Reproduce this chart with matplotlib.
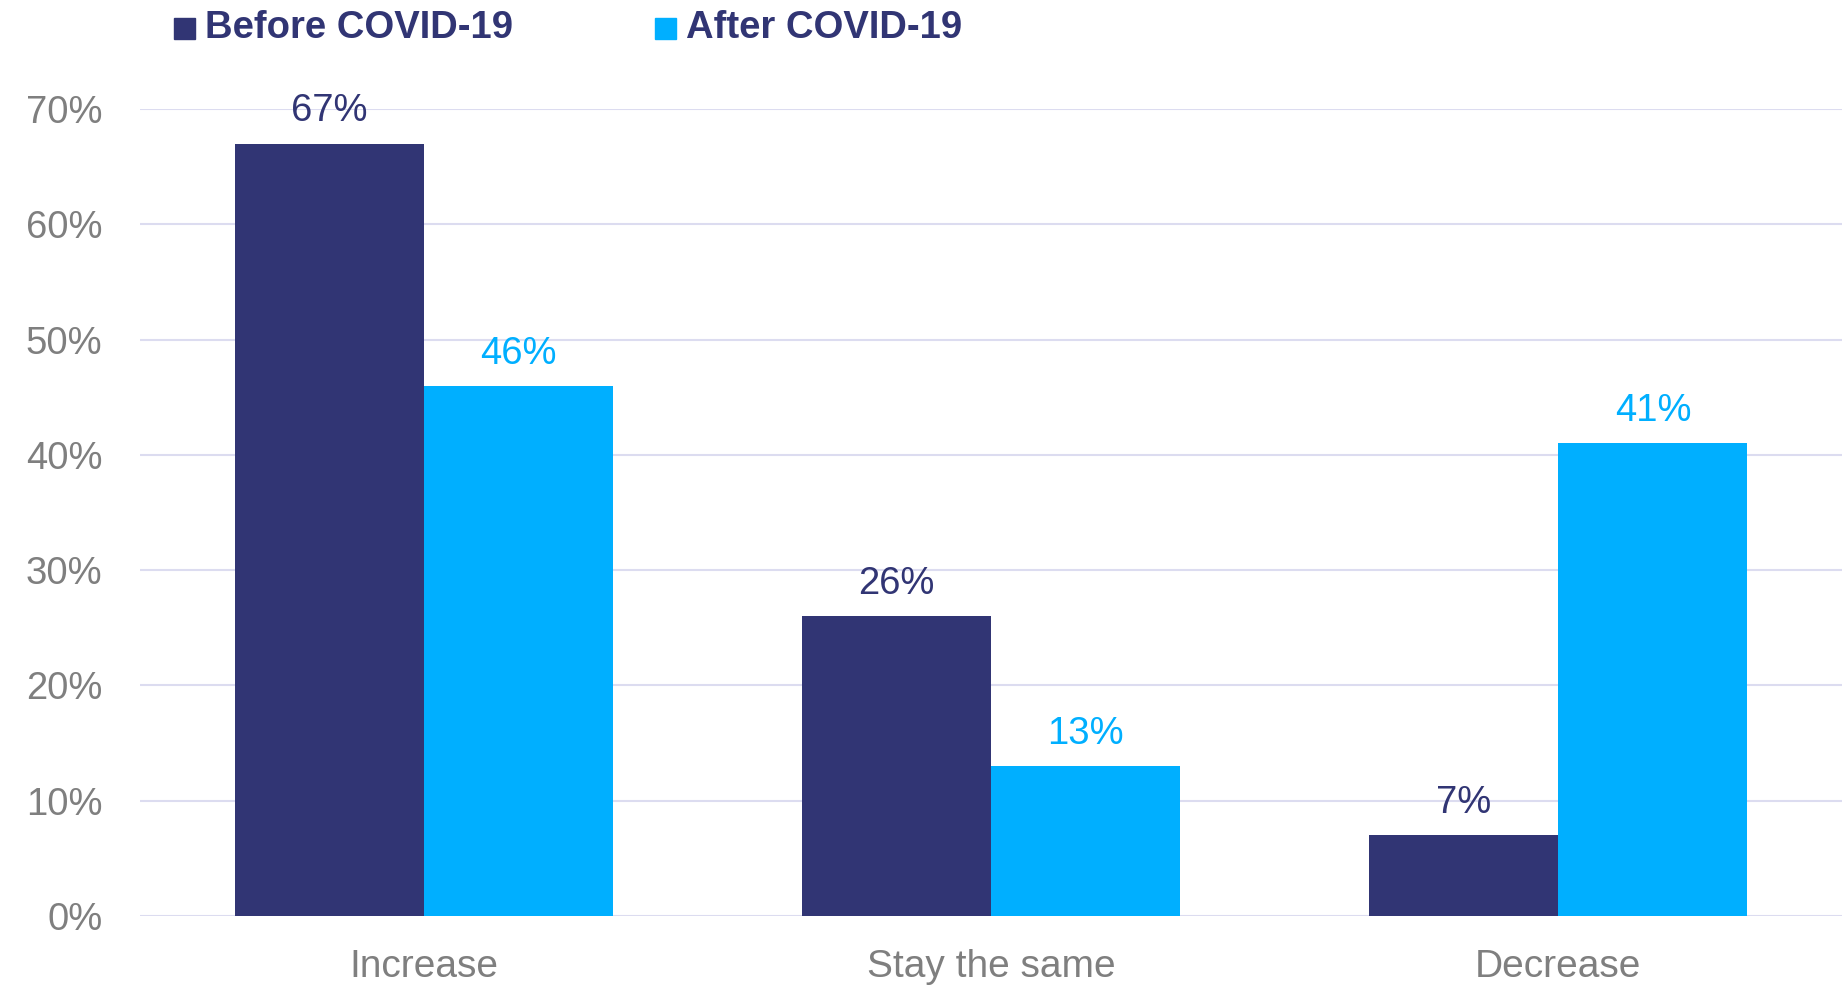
import numpy as np
import matplotlib
matplotlib.use("Agg")
import matplotlib.pyplot as plt
from matplotlib.patches import Rectangle

# Survey answers, share of respondents (%)
categories = ["Increase", "Stay the same", "Decrease"]
before_covid = [67, 26, 7]
after_covid = [46, 13, 41]
series_names = ["Before COVID-19", "After COVID-19"]
y_ticks = [0, 10, 20, 30, 40, 50, 60, 70]

NAVY = "#313574"
CYAN = "#00afff"
GREY = "#7f7f7f"
GRID = "#dcdcf0"

plt.rcParams["font.family"] = ["Liberation Sans", "DejaVu Sans"]

fig = plt.figure(figsize=(18.42, 9.85), dpi=100)
ax = fig.add_axes([0.076, 0.07, 0.924, 0.8193])

x = np.arange(len(categories))
width = 1 / 3

bars_before = ax.bar(x - width / 2, before_covid, width, color=NAVY, zorder=3)
bars_after = ax.bar(x + width / 2, after_covid, width, color=CYAN, zorder=3)

# value labels above each bar
for bars, color in [(bars_before, NAVY), (bars_after, CYAN)]:
    for b in bars:
        v = b.get_height()
        ax.annotate(f"{v:.0f}%", (b.get_x() + b.get_width() / 2, v),
                    xytext=(0, 16), textcoords="offset points",
                    ha="center", va="baseline", fontsize=27.5, color=color,
                    zorder=4)

ax.set_xlim(-0.5, 2.5)
ax.set_ylim(0, 70)
ax.set_yticks(y_ticks)
ax.set_yticklabels([f"{t}%" for t in y_ticks])
ax.set_xticks(x)
ax.set_xticklabels(categories)
ax.tick_params(axis="y", length=0, pad=27, labelsize=27.5, labelcolor=GREY)
ax.tick_params(axis="x", length=0, pad=24, labelsize=28, labelcolor=GREY)

ax.grid(axis="y", color=GRID, linewidth=1.5, zorder=0)
for side in ["top", "right", "left", "bottom"]:
    ax.spines[side].set_visible(False)
ax.axhline(0, color=GRID, linewidth=2, zorder=2)

# legend drawn as squares + bold text across the top
legend_items = [(series_names[0], NAVY, 0.0945), (series_names[1], CYAN, 0.3555)]
for name, color, xpos in legend_items:
    fig.patches.append(Rectangle((xpos, 0.9605), 0.0115, 0.0215,
                                 transform=fig.transFigure, color=color))
    fig.text(xpos + 0.017, 0.9715, name, fontsize=27.5, fontweight="bold",
             color=NAVY, va="center", ha="left")

fig.savefig("out.png", dpi=100)
